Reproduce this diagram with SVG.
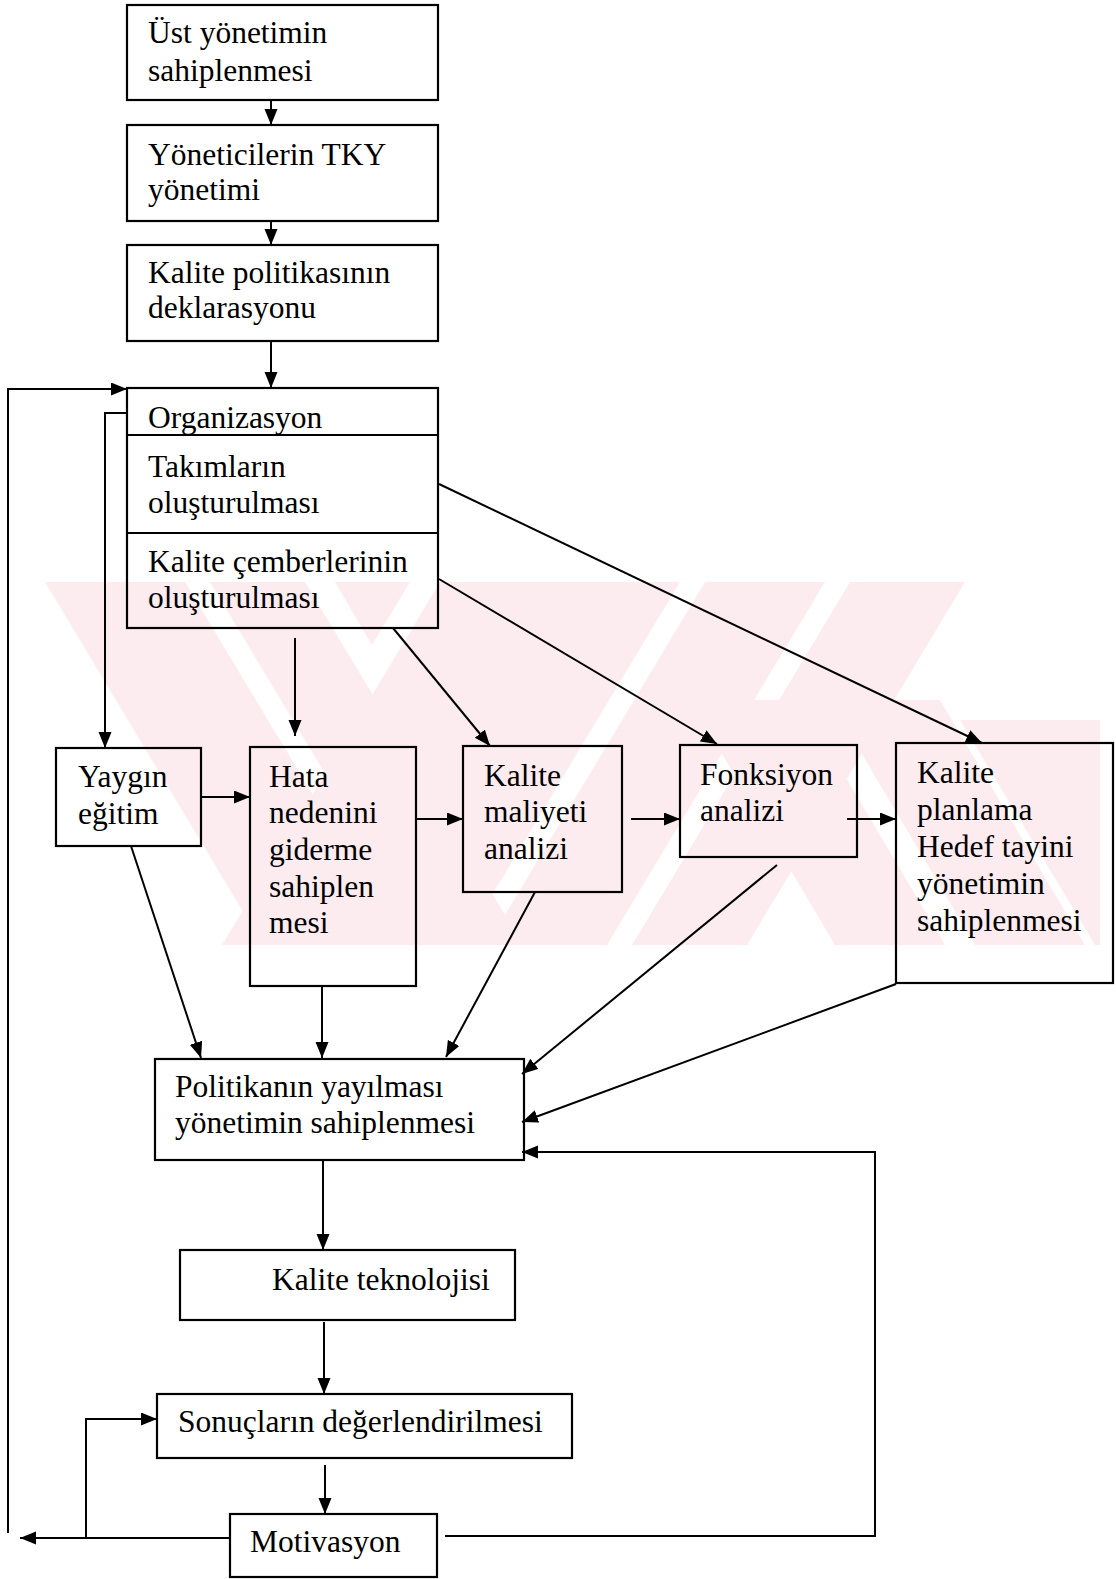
<svg xmlns="http://www.w3.org/2000/svg" width="1116" height="1579" viewBox="0 0 1116 1579">
<defs>
<marker id="ah" markerUnits="userSpaceOnUse" markerWidth="17" markerHeight="14" refX="16" refY="6.5" orient="auto">
<path d="M0,0 L16,6.5 L0,13 z" fill="#000"/>
</marker>
<clipPath id="wmclip"><rect x="45" y="582" width="1055" height="363"/></clipPath>
<style>
.box{fill:none;stroke:#000;stroke-width:2.2}
.ln{fill:none;stroke:#000;stroke-width:2}
.ar{fill:none;stroke:#000;stroke-width:2;marker-end:url(#ah)}
.wm{fill:#fdecef;stroke:none}
text{font-family:"Liberation Serif","Times New Roman",serif;font-size:31.5px;fill:#000}
</style>
</defs>
<rect width="1116" height="1579" fill="#fff"/>
<g id="watermark" clip-path="url(#wmclip)">
<polygon class="wm" points="45,582 185,582 403,945 263,945"/>
<polygon class="wm" points="210,582 305,582 523,945 428,945"/>
<polygon class="wm" points="335,582 410,582 372,645"/>
<polygon class="wm" points="440,582 680,582 462,945 222,945"/>
<polygon class="wm" points="705,582 825,582 607,945 487,945"/>
<polygon class="wm" points="850,582 965,582 747,945 632,945"/>
<polygon class="wm" points="690,700 800,700 945,945 835,945"/>
<polygon class="wm" points="830,700 940,700 1085,945 975,945"/>
<polygon class="wm" points="960,720 1100,720 1100,945 1095,945"/>
</g>
<g id="n1"><rect class="box" x="127" y="5" width="311" height="95"/><text x="148" y="43">Üst yönetimin</text><text x="148" y="81">sahiplenmesi</text></g>
<g id="n2"><rect class="box" x="127" y="125" width="311" height="96"/><text x="148" y="165">Yöneticilerin TKY</text><text x="148" y="200">yönetimi</text></g>
<g id="n3"><rect class="box" x="127" y="245" width="311" height="96"/><text x="148" y="283">Kalite politikasının</text><text x="148" y="318">deklarasyonu</text></g>
<g id="n4"><rect class="box" x="127" y="388" width="311" height="240"/><line class="ln" x1="127" y1="435" x2="438" y2="435"/><line class="ln" x1="127" y1="533" x2="438" y2="533"/><text x="148" y="428">Organizasyon</text><text x="148" y="477">Takımların</text><text x="148" y="513">oluşturulması</text><text x="148" y="572">Kalite çemberlerinin</text><text x="148" y="608">oluşturulması</text></g>
<g id="n5"><rect class="box" x="56" y="748" width="145" height="98"/><text x="78" y="787">Yaygın</text><text x="78" y="824">eğitim</text></g>
<g id="n6"><rect class="box" x="250" y="747" width="166" height="239"/><text x="269" y="787">Hata</text><text x="269" y="823">nedenini</text><text x="269" y="860">giderme</text><text x="269" y="897">sahiplen</text><text x="269" y="933">mesi</text></g>
<g id="n7"><rect class="box" x="463" y="746" width="159" height="146"/><text x="484" y="786">Kalite</text><text x="484" y="822">maliyeti</text><text x="484" y="859">analizi</text></g>
<g id="n8"><rect class="box" x="680" y="745" width="177" height="112"/><text x="700" y="785">Fonksiyon</text><text x="700" y="821">analizi</text></g>
<g id="n9"><rect class="box" x="896" y="743" width="217" height="240"/><text x="917" y="783">Kalite</text><text x="917" y="820">planlama</text><text x="917" y="857">Hedef tayini</text><text x="917" y="894">yönetimin</text><text x="917" y="931">sahiplenmesi</text></g>
<g id="n10"><rect class="box" x="155" y="1059" width="369" height="101"/><text x="175" y="1097">Politikanın yayılması</text><text x="175" y="1133">yönetimin sahiplenmesi</text></g>
<g id="n11"><rect class="box" x="180" y="1250" width="335" height="70"/><text x="272" y="1290">Kalite teknolojisi</text></g>
<g id="n12"><rect class="box" x="157" y="1394" width="415" height="64"/><text x="178" y="1432">Sonuçların değerlendirilmesi</text></g>
<g id="n13"><rect class="box" x="230" y="1514" width="207" height="63"/><text x="250" y="1552">Motivasyon</text></g>
<g id="connectors">
<line class="ar" x1="271" y1="100" x2="271" y2="125"/>
<line class="ar" x1="271" y1="221" x2="271" y2="245"/>
<line class="ar" x1="271" y1="341" x2="271" y2="388"/>
<polyline class="ar" points="8,1533 8,389 127,389"/>
<polyline class="ar" points="128,413 105,413 105,748"/>
<line class="ar" x1="295" y1="638" x2="295" y2="736"/>
<line class="ar" x1="393" y1="628" x2="490" y2="746"/>
<line class="ar" x1="439" y1="579" x2="717" y2="744"/>
<line class="ar" x1="439" y1="484" x2="982" y2="743"/>
<line class="ar" x1="201" y1="797" x2="250" y2="797"/>
<line class="ar" x1="416" y1="819" x2="463" y2="819"/>
<line class="ar" x1="631" y1="819" x2="680" y2="819"/>
<line class="ar" x1="847" y1="819" x2="896" y2="819"/>
<line class="ar" x1="131" y1="846" x2="201" y2="1058"/>
<line class="ar" x1="322" y1="986" x2="322" y2="1058"/>
<line class="ar" x1="535" y1="892" x2="446" y2="1057"/>
<line class="ar" x1="777" y1="865" x2="522" y2="1074"/>
<line class="ar" x1="896" y1="984" x2="522" y2="1122"/>
<polyline class="ar" points="445,1536 875,1536 875,1152 522,1152"/>
<line class="ar" x1="323" y1="1160" x2="323" y2="1250"/>
<line class="ar" x1="324" y1="1322" x2="324" y2="1394"/>
<line class="ar" x1="325" y1="1465" x2="325" y2="1514"/>
<polyline class="ar" points="86,1538 86,1419 157,1419"/>
<line class="ar" x1="230" y1="1538" x2="20" y2="1538"/>
</g>
</svg>
